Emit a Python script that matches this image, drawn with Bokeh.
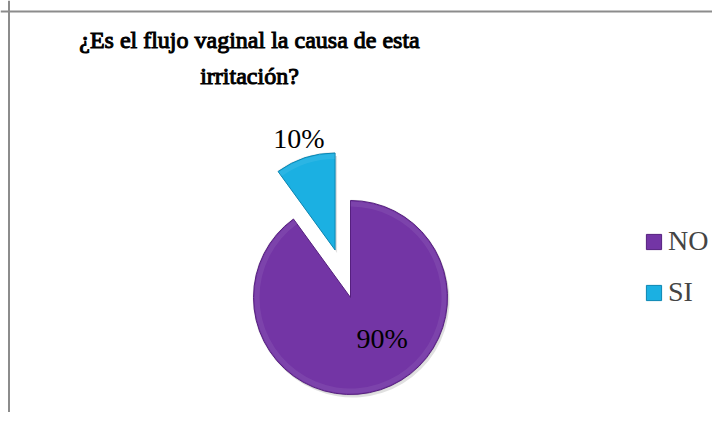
import numpy as np
from bokeh.plotting import figure
from bokeh.models import ColumnDataSource, Range1d, Legend, LegendItem, Span
from bokeh.embed import file_html
from bokeh.resources import INLINE
from bokeh.core.properties import value

# ---- data ----
title_lines = ["¿Es el flujo vaginal la causa de esta", "irritación?"]
categories = ["NO", "SI"]
values = [90, 10]
colors = ["#7335A5", "#1BB0E2"]
rim_colors = ["#56207F", "#0C86B2"]

# ---- layout / style ----
W, H = 712, 412
CX, CY, R = 350, 131, 97          # pie centre / radius (px units, y up from 428)
explode = np.array([0.0, 0.515])  # fraction of radius
label_r = np.array([0.53, 1.21])  # label radius as fraction of R
label_shift = np.radians([20, 0]) # angular nudge of label
FONT = "Liberation Serif"

vals = np.array(values, dtype=float)
frac = vals / vals.sum()
before = np.concatenate([[0], np.cumsum(frac)[:-1]])
start = np.pi / 2 - 2 * np.pi * before
end = start - 2 * np.pi * frac
mid = (start + end) / 2
px = CX + explode * R * np.cos(mid)
py = CY + explode * R * np.sin(mid)
la = mid + label_shift
lx = px + label_r * R * np.cos(la)
ly = py + label_r * R * np.sin(la)
pct = [f"{round(f * 100)}%" for f in frac]

src = ColumnDataSource(dict(x=px, y=py, sx=px + 2, sy=py - 3, start=start, end=end,
                            color=colors, rim=rim_colors, cat=categories,
                            lx=lx, ly=ly, pct=pct))
tsrc = ColumnDataSource(dict(x=[249, 249], y=[389, 353], t=title_lines))

p = figure(width=W, height=H, x_range=Range1d(0, W), y_range=Range1d(428 - H, 428),
           x_axis_type=None, y_axis_type=None, toolbar_location=None,
           output_backend="svg", min_border=0, outline_line_color=None,
           background_fill_color="white", border_fill_color="white")
p.title_location = None
p.grid.visible = False

# chart-area border (top and left edges visible in the reference)
p.add_layout(Span(location=417, dimension="width", line_color="#8C8C8C", line_width=2))
p.add_layout(Span(location=8.5, dimension="height", line_color="#8C8C8C", line_width=2))

# soft shadow
p.wedge(x="sx", y="sy", radius=R, start_angle="start", end_angle="end", direction="clock",
        source=src, fill_color="black", fill_alpha=0.12, line_color=None)
p.wedge(x="x", y="y", radius=R + 1, start_angle="start", end_angle="end", direction="clock",
        source=src, fill_color="black", fill_alpha=0.08, line_color=None)
# slices
wr = p.wedge(x="x", y="y", radius=R, start_angle="start", end_angle="end", direction="clock",
             source=src, fill_color="color", line_color="rim", line_width=1)
# bevel highlight
p.annular_wedge(x="x", y="y", inner_radius=R - 6, outer_radius=R - 1, start_angle="start",
                end_angle="end", direction="clock", source=src, fill_color="white",
                fill_alpha=0.07, line_color=None)

p.text(x="lx", y="ly", text="pct", source=src, text_font=value(FONT),
       text_font_size=value("28px"), text_align="center", text_baseline="alphabetic",
       y_offset=0, text_color="black")

# title (regular serif face with a thin outline to give the bold weight)
p.text(x="x", y="y", text="t", source=tsrc, text_font=value(FONT),
       text_font_size=value("24px"), text_align="center",
       text_baseline="alphabetic", text_color="black", text_outline_color="black")

legend = Legend(items=[LegendItem(label=c, renderers=[wr], index=i) for i, c in enumerate(categories)],
                location=(644, 104), label_text_font=FONT, label_text_font_size="28px",
                glyph_width=19, glyph_height=19, label_height=19, spacing=19,
                label_standoff=5, padding=0, margin=0, border_line_color=None,
                background_fill_alpha=0)
p.add_layout(legend)

open("out.html", "w").write(file_html(p, INLINE))
